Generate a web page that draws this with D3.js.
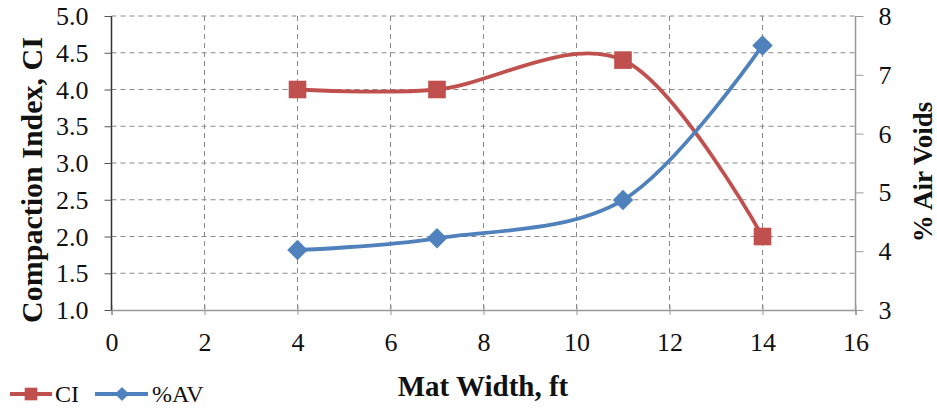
<!DOCTYPE html>
<html><head><meta charset="utf-8">
<script src="https://cdn.jsdelivr.net/npm/d3@7"></script>
<style>
html,body{margin:0;padding:0;background:#fff;}
svg text{font-family:"Liberation Serif","Times New Roman","DejaVu Serif",serif !important;}
</style></head>
<body><svg id="c" width="937" height="409"></svg>
<script>
const matWidth = [4, 7, 11, 14];
const ciValues = [4.0, 4.0, 4.4, 2.0];
const avValues = [4.02, 4.22, 4.87, 7.5];
const xTicks = [0, 2, 4, 6, 8, 10, 12, 14, 16];
const yLeftTicks = [1.0, 1.5, 2.0, 2.5, 3.0, 3.5, 4.0, 4.5, 5.0];
const yRightTicks = [3, 4, 5, 6, 7, 8];
const seriesNames = ["CI", "%AV"];
const seriesColors = ["#C0504D", "#4F81BD"];

const svg = d3.select("#c");
const L = 111.5, R = 855.5, T = 16, B = 310;
const x = d3.scaleLinear().domain([0, 16]).range([L, R]);
const yL = d3.scaleLinear().domain([1, 5]).range([B, T]);
const yR = d3.scaleLinear().domain([3, 8]).range([B, T]);

const g = svg.append("g");
g.selectAll(".hg").data(yLeftTicks.slice(1)).join("line")
  .attr("x1", L).attr("x2", R).attr("y1", d => yL(d)).attr("y2", d => yL(d))
  .attr("stroke", "#8a8a8a").attr("stroke-width", 1).attr("stroke-dasharray", "5,4");
g.selectAll(".vg").data(xTicks.slice(1, -1)).join("line")
  .attr("x1", d => x(d)).attr("x2", d => x(d)).attr("y1", T).attr("y2", B)
  .attr("stroke", "#8a8a8a").attr("stroke-width", 1).attr("stroke-dasharray", "5,4");

const axB = svg.append("g").attr("transform", `translate(0,${B})`)
  .call(d3.axisBottom(x).tickValues(xTicks).tickSize(5).tickPadding(18).tickFormat(d3.format("d")));
axB.select(".domain").attr("stroke", "#999").attr("stroke-width", 1.5);
axB.selectAll(".tick line").attr("stroke", "#999").attr("y1", -5).attr("y2", 5);
axB.selectAll("text").attr("font-size", 26).attr("fill", "#111");

const axL = svg.append("g").attr("transform", `translate(${L},0)`)
  .call(d3.axisLeft(yL).tickValues(yLeftTicks).tickSize(7).tickPadding(16).tickFormat(d3.format(".1f")));
axL.select(".domain").attr("stroke", "#333").attr("stroke-width", 1.5).attr("d", `M0,${T}V${B}`);
axL.selectAll(".tick line").attr("stroke", "#555");
axL.selectAll("text").attr("font-size", 26).attr("fill", "#111").attr("dy", "0.33em");

const axR = svg.append("g").attr("transform", `translate(${R},0)`)
  .call(d3.axisRight(yR).tickValues(yRightTicks).tickSize(8).tickPadding(15).tickFormat(d3.format("d")));
axR.select(".domain").attr("stroke", "#999").attr("stroke-width", 1.5).attr("d", `M0,${T}V${B}`);
axR.selectAll(".tick line").attr("stroke", "#999");
axR.selectAll("text").attr("font-size", 26).attr("fill", "#111").attr("dy", "0.33em");

svg.append("text").attr("x", 483).attr("y", 396).attr("text-anchor", "middle")
  .attr("font-size", 29).attr("font-weight", "bold").attr("fill", "#111").text("Mat Width, ft");
svg.append("text").attr("transform", `translate(42,180) rotate(-90)`).attr("text-anchor", "middle")
  .attr("font-size", 30).attr("font-weight", "bold").attr("fill", "#111").text("Compaction Index, CI");
svg.append("text").attr("transform", `translate(932,172) rotate(-90)`).attr("text-anchor", "middle")
  .attr("font-size", 27).attr("font-weight", "bold").attr("fill", "#111").text("% Air Voids");

const curve = d3.curveCardinal.tension(0);
const ciData = matWidth.map((d, i) => [d, ciValues[i]]);
const avData = matWidth.map((d, i) => [d, avValues[i]]);
svg.append("path").datum(ciData).attr("fill", "none").attr("stroke", seriesColors[0]).attr("stroke-width", 3.8)
  .attr("d", d3.line().x(d => x(d[0])).y(d => yL(d[1])).curve(curve));
svg.append("path").datum(avData).attr("fill", "none").attr("stroke", seriesColors[1]).attr("stroke-width", 3.8)
  .attr("d", d3.line().x(d => x(d[0])).y(d => yR(d[1])).curve(curve));

svg.selectAll(".ci").data(ciData).join("path").attr("d", d3.symbol().type(d3.symbolSquare).size(310))
  .attr("transform", d => `translate(${x(d[0])},${yL(d[1])})`).attr("fill", seriesColors[0]);
svg.selectAll(".av").data(avData).join("path")
  .attr("d", d3.symbol().type(d3.symbolSquare).size(210))
  .attr("transform", d => `translate(${x(d[0])},${yR(d[1])}) rotate(45)`).attr("fill", seriesColors[1]);

const lg = svg.append("g").attr("transform", "translate(0,394)");
lg.append("line").attr("x1", 10).attr("x2", 52).attr("y1", 0).attr("y2", 0).attr("stroke", seriesColors[0]).attr("stroke-width", 3.8);
lg.append("path").attr("d", d3.symbol().type(d3.symbolSquare).size(160)).attr("transform", "translate(31,0)").attr("fill", seriesColors[0]);
lg.append("text").attr("x", 55).attr("y", 8).attr("font-size", 24).attr("fill", "#111").text(seriesNames[0]);
lg.append("line").attr("x1", 95).attr("x2", 148).attr("y1", 0).attr("y2", 0).attr("stroke", seriesColors[1]).attr("stroke-width", 3.8);
lg.append("path").attr("d", d3.symbol().type(d3.symbolSquare).size(100)).attr("transform", "translate(122,0) rotate(45)").attr("fill", seriesColors[1]);
lg.append("text").attr("x", 152).attr("y", 8).attr("font-size", 24).attr("fill", "#111").text(seriesNames[1]);
</script></body></html>
